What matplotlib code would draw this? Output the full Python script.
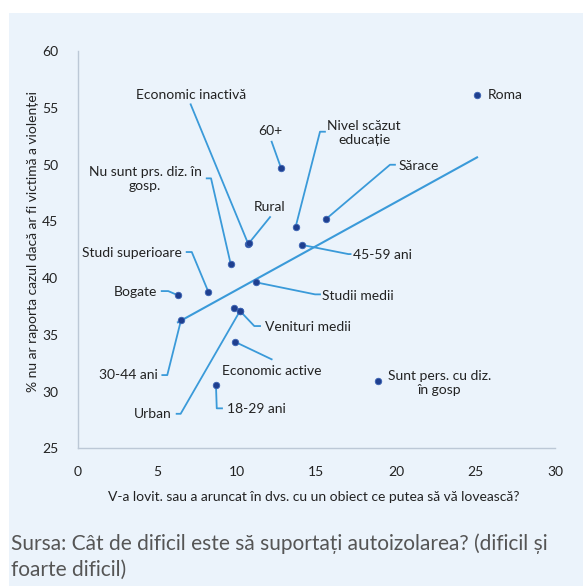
import matplotlib
matplotlib.use("Agg")
import matplotlib.pyplot as plt
import numpy as np
from matplotlib.patches import Rectangle

# data
labels = [
    "Roma", "60+", "Nivel scăzut\neducație", "Sărace", "Economic inactivă",
    "Rural", "45-59 ani", "Nu sunt prs. diz. în\ngosp.", "Studi superioare",
    "Bogate", "Studii medii", "", "Venituri medii", "Urban", "Economic active",
    "18-29 ani", "30-44 ani", "Sunt pers. cu diz.\nîn gosp",
]
x_vals = [25.10, 12.78, 13.70, 15.61, 10.72, 10.75, 14.12, 9.62, 8.21,
          6.30, 11.21, 9.80, 10.22, 10.20, 9.87, 8.69, 6.49, 18.89]
y_vals = [56.10, 49.69, 44.52, 45.20, 43.00, 43.05, 42.91, 41.21, 38.79,
          38.48, 39.62, 37.38, 37.07, 37.10, 34.39, 30.57, 36.27, 30.90]

x_title = "V-a lovit. sau a aruncat în dvs. cu un obiect ce putea să vă lovească?"
y_title = "% nu ar raporta cazul dacă ar fi victimă a violenței"
source = "Sursa: Cât de dificil este să suportați autoizolarea? (dificil și\nfoarte dificil)"

# label layout: text pos, ha, leader path (from point to the text)
layout = {
    "Economic inactivă": ((7.11, 56.12), "center", [(7.10, 55.30)]),
    "60+": ((12.09, 52.95), "center", [(12.19, 52.01)]),
    "Nivel scăzut\neducație": ((18.0, 52.82), "center", [(15.23, 52.89), (15.54, 52.89)]),
    "Sărace": ((20.19, 49.89), "left", [(19.63, 49.98), (19.94, 49.98)]),
    "Nu sunt prs. diz. în\ngosp.": ((4.23, 48.68), "center", [(8.38, 48.78), (8.11, 48.78)]),
    "Rural": ((12.09, 46.28), "center", [(12.09, 45.37)]),
    "Studi superioare": ((6.54, 42.23), "right", [(7.17, 42.29), (6.85, 42.29)]),
    "Bogate": ((5.0, 38.79), "right", [(5.69, 38.85), (5.28, 38.85)]),
    "45-59 ani": ((17.28, 42.03), "left", [(17.01, 42.11), (17.15, 42.11)]),
    "Studii medii": ((15.37, 38.44), "left", [(14.92, 38.56), (15.23, 38.56)]),
    "Venituri medii": ((11.77, 35.71), "left", [(11.10, 35.77), (11.46, 35.77)]),
    "30-44 ani": ((5.03, 31.45), "right", [(5.63, 31.45), (5.32, 31.45)]),
    "Economic active": ((12.21, 31.83), "center", [(12.19, 32.84)]),
    "Urban": ((5.91, 27.99), "right", [(6.47, 28.04), (6.22, 28.04)]),
    "18-29 ani": ((9.40, 28.46), "left", [(8.74, 28.52), (9.07, 28.52)]),
    "Sunt pers. cu diz.\nîn gosp": ((22.74, 30.75), "center", []),
}

plt.rcParams["font.family"] = ["Lato", "DejaVu Sans"]

bg = "#EBF3FB"
line_col = "#3A9AD9"
dot_col = "#1F3F8F"
text_col = "#222222"

fig = plt.figure(figsize=(5.83, 5.86), dpi=100)
fig.patch.set_facecolor("white")
fig.patches.append(Rectangle((9 / 583, 0), 1, 1 - 13 / 586, transform=fig.transFigure,
                             facecolor=bg, edgecolor="none", zorder=-10))

ax = fig.add_axes([77.7 / 583, 1 - 448.3 / 586, (555 - 77.7) / 583, (448.3 - 51) / 586])
ax.set_facecolor("none")
ax.set_xlim(0, 30)
ax.set_ylim(25, 60)
ax.set_xticks(range(0, 31, 5))
ax.set_yticks(range(25, 61, 5))
ax.tick_params(length=0, labelsize=10, colors=text_col)
ax.tick_params(axis="x", pad=13)
ax.tick_params(axis="y", pad=14)
for s in ["top", "right"]:
    ax.spines[s].set_visible(False)
for s in ["left", "bottom"]:
    ax.spines[s].set_color("#BCC8D6")
    ax.spines[s].set_linewidth(1.0)

# trend line
xs = np.array(x_vals)
ys = np.array(y_vals)
k, b = np.polyfit(xs, ys, 1)
tx = np.array([xs.min(), xs.max()])
ax.plot(tx, k * tx + b, color=line_col, lw=1.5, zorder=2)

# leaders + labels
for lab, x, y in zip(labels, x_vals, y_vals):
    if lab in layout:
        (lx, ly), ha, path = layout[lab]
        if path:
            px = [x] + [p[0] for p in path]
            py = [y] + [p[1] for p in path]
            ax.plot(px, py, color=line_col, lw=1.3, zorder=3)
        ax.text(lx, ly, lab, ha=ha, va="center", fontsize=10, color=text_col,
                multialignment="center", zorder=5)
    elif lab:
        ax.annotate(lab, (x, y), xytext=(8, 0), textcoords="offset points",
                    ha="left", va="center", fontsize=10, color=text_col)

ax.scatter(xs, ys, s=22, color=dot_col, edgecolors="#3C64B4", linewidths=0.6, zorder=6)

fig.text(314 / 583, 1 - 497 / 586, x_title, ha="center", va="center",
         fontsize=10, color=text_col)
fig.text(33 / 583, 1 - 241 / 586, y_title, rotation=90, ha="center", va="center",
         fontsize=10, color=text_col)
fig.text(11 / 583, 1 - 557 / 586, source, ha="left", va="center", fontsize=15,
         color="#555555", linespacing=1.38)

fig.savefig("out.png", dpi=100, facecolor=fig.get_facecolor())
